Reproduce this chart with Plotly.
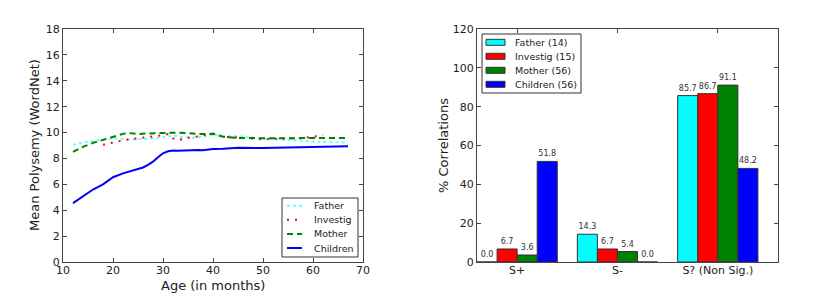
import plotly.graph_objects as go

# ---- Left panel data (mean polysemy by age) ----
father_age = [12, 15, 18, 20, 22, 25, 28, 30, 32, 34, 36, 38, 40, 43, 45, 48, 50, 55, 60, 67]
father_val = [9.05, 9.3, 9.45, 9.55, 9.5, 9.48, 9.55, 9.63, 9.78, 9.62, 9.6, 9.7, 9.8, 9.75, 9.72, 9.6, 9.52, 9.43, 9.3, 9.22]

investig_age = [18, 20, 22, 25, 28, 30, 31, 32, 33, 35, 37, 40, 42, 45, 48, 50, 55, 58, 60, 62]
investig_val = [9.05, 9.22, 9.4, 9.55, 9.68, 9.8, 9.88, 9.55, 9.4, 9.6, 9.7, 9.92, 9.68, 9.6, 9.5, 9.48, 9.55, 9.58, 9.68, 9.8]

mother_age = [12, 14, 16, 18, 20, 22, 23, 25, 27, 30, 33, 36, 38, 40, 42, 45, 50, 55, 60, 67]
mother_val = [8.5, 8.9, 9.2, 9.45, 9.7, 9.9, 9.97, 9.88, 9.93, 9.95, 10.0, 9.92, 9.88, 9.9, 9.68, 9.58, 9.55, 9.55, 9.58, 9.58]

children_age = [12, 14, 16, 18, 20, 22, 24, 26, 27, 28, 29, 30, 31, 32, 33, 35, 37, 38, 40, 42, 45, 50, 55, 60, 67]
children_val = [4.55, 5.1, 5.6, 6.0, 6.55, 6.85, 7.05, 7.3, 7.5, 7.75, 8.1, 8.4, 8.55, 8.62, 8.6, 8.65, 8.65, 8.63, 8.72, 8.75, 8.82, 8.8, 8.85, 8.9, 8.95]

# ---- Right panel data (% correlations) ----
categories = ["S+", "S-", "S? (Non Sig.)"]
bar_father = [0.0, 14.3, 85.7]
bar_investig = [6.7, 6.7, 86.7]
bar_mother = [3.6, 5.4, 91.1]
bar_children = [51.8, 0.0, 48.2]

FONT = "DejaVu Sans"
OFF = 8              # default page body margin
W, H = 830 - OFF, 302 - OFF

line_series = [
    ("Father", father_age, father_val, dict(color="#66ffff", width=2, dash="dot")),
    ("Investig", investig_age, investig_val, dict(color="#ff0000", width=2, dash="2px,6px")),
    ("Mother", mother_age, mother_val, dict(color="#008000", width=2, dash="6px,4px")),
    ("Children", children_age, children_val, dict(color="#0000ff", width=2)),
]
bar_series = [
    ("Father (14)", bar_father, "#00ffff"),
    ("Investig (15)", bar_investig, "#ff0000"),
    ("Mother (56)", bar_mother, "#008000"),
    ("Children (56)", bar_children, "#0000ff"),
]

fig = go.Figure()

for name, xs, ys, ln in line_series:
    fig.add_trace(go.Scatter(x=xs, y=ys, mode="lines", name=name, line=ln,
                             xaxis="x", yaxis="y", showlegend=False))

for name, vals, col in bar_series:
    fig.add_trace(go.Bar(x=categories, y=vals, name=name,
                         marker=dict(color=col, line=dict(color="#333333", width=1)),
                         texttemplate="%{y:.1f}", textposition="outside",
                         textfont=dict(size=8, color="#333333", family=FONT),
                         cliponaxis=False, showlegend=False,
                         xaxis="x2", yaxis="y2"))

ax_common = dict(showline=True, linecolor="#444444", linewidth=1, mirror="allticks",
                 ticks="inside", ticklen=4, tickcolor="#444444", showgrid=False,
                 zeroline=False, automargin=False,
                 tickfont=dict(size=11, color="#222222", family=FONT))

# ---- pixel (page) -> paper helpers ----
def px(x):
    return (x - OFF) / W

def py(y):
    return 1 - (y - OFF) / H

shapes = []
annotations = []

# left legend
shapes.append(dict(type="rect", xref="paper", yref="paper",
                   x0=px(282), x1=px(358), y0=py(257), y1=py(198),
                   line=dict(color="#333333", width=1), fillcolor="white", layer="above"))
for i, (name, _, _, ln) in enumerate(line_series):
    yc = 205.7 + i * 14.1
    shapes.append(dict(type="line", xref="paper", yref="paper",
                       x0=px(287), x1=px(302), y0=py(yc), y1=py(yc),
                       line=ln, layer="above"))
    annotations.append(dict(text=name, x=px(312), y=py(yc), xref="paper", yref="paper",
                            xanchor="left", yanchor="middle", showarrow=False,
                            font=dict(size=9.5, family=FONT, color="#222222")))

# right legend
shapes.append(dict(type="rect", xref="paper", yref="paper",
                   x0=px(482), x1=px(581), y0=py(93), y1=py(34),
                   line=dict(color="#333333", width=1), fillcolor="white", layer="above"))
for i, (name, _, col) in enumerate(bar_series):
    yc = 42.3 + i * 14.0
    shapes.append(dict(type="rect", xref="paper", yref="paper",
                       x0=px(486), x1=px(505), y0=py(yc + 3), y1=py(yc - 3),
                       line=dict(color="#333333", width=1), fillcolor=col, layer="above"))
    annotations.append(dict(text=name, x=px(513), y=py(yc), xref="paper", yref="paper",
                            xanchor="left", yanchor="middle", showarrow=False,
                            font=dict(size=9.5, family=FONT, color="#222222")))

title_font = dict(size=13, family=FONT, color="#222222")
annotations += [
    dict(text="Mean Polysemy (WordNet)", x=px(34), y=py(145), xref="paper", yref="paper",
         xanchor="center", yanchor="middle",
         showarrow=False, textangle=-90, font=title_font),
    dict(text="Age (in months)", x=px(213), y=py(285), xref="paper", yref="paper",
         xanchor="center", yanchor="middle", showarrow=False, font=title_font),
    dict(text="% Correlations", x=px(443), y=py(145), xref="paper", yref="paper",
         xanchor="center", yanchor="middle",
         showarrow=False, textangle=-90, font=title_font),
]

fig.update_layout(
    template="none",
    width=W, height=H,
    margin=dict(l=0, r=0, t=0, b=0, pad=0, autoexpand=False),
    paper_bgcolor="white", plot_bgcolor="white",
    font=dict(family=FONT, color="#222222"),
    showlegend=False,
    barmode="group", bargap=0.2, bargroupgap=0,
    xaxis=dict(domain=[px(63), px(363)], range=[10, 70], dtick=10, anchor="y",
               ticklabelstandoff=-2, **ax_common),
    yaxis=dict(domain=[py(262), py(29)], range=[0, 18], dtick=2, anchor="x", **ax_common),
    xaxis2=dict(domain=[px(477), px(778)], range=[-0.4, 2.6], anchor="y2",
                ticklabelstandoff=-2, **ax_common),
    yaxis2=dict(domain=[py(262), py(29)], range=[0, 120], dtick=20, anchor="x2", **ax_common),
    shapes=shapes,
    annotations=annotations,
)

fig.write_html("out.html")
